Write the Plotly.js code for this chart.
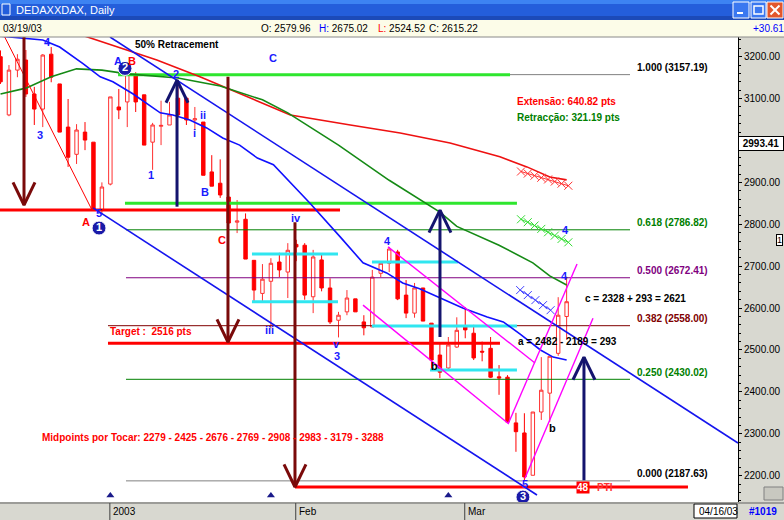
<!DOCTYPE html>
<html>
<head>
<meta charset="utf-8">
<script src="https://cdn.plot.ly/plotly-3.0.1.min.js"></script>
<style>
  html, body { margin: 0; padding: 0; background: #fff; overflow: hidden; }
  #chart { width: 784px; height: 520px; }
</style>
</head>
<body>
<div id="chart"></div>
<script>
// ---- DAX daily bars, 09 Dec 2002 .. 19 Mar 2003 (x = bar index) ----
const barDates = [
  '2002-12-09','2002-12-10','2002-12-11','2002-12-12','2002-12-13','2002-12-16','2002-12-17','2002-12-18','2002-12-19','2002-12-20','2002-12-23','2002-12-27','2002-12-30',
  '2003-01-02','2003-01-03','2003-01-06','2003-01-07','2003-01-08','2003-01-09','2003-01-10','2003-01-13','2003-01-14','2003-01-15','2003-01-16','2003-01-17','2003-01-20','2003-01-21','2003-01-22','2003-01-23','2003-01-24','2003-01-27','2003-01-28','2003-01-29','2003-01-30','2003-01-31',
  '2003-02-03','2003-02-04','2003-02-05','2003-02-06','2003-02-07','2003-02-10','2003-02-11','2003-02-12','2003-02-13','2003-02-14','2003-02-17','2003-02-18','2003-02-19','2003-02-20','2003-02-21','2003-02-24','2003-02-25','2003-02-26','2003-02-27','2003-02-28',
  '2003-03-03','2003-03-04','2003-03-05','2003-03-06','2003-03-07','2003-03-10','2003-03-11','2003-03-12','2003-03-13','2003-03-14','2003-03-17','2003-03-18','2003-03-19'
];
const openPx  = [3200,3061,3168,3192,3111,3075,3206,3135,3032,2967,3020,2996,2834,2896,3080,3092,3156,3109,2996,3034,3037,3101,3101,3049,3044,2925,2898,2865,2805,2812,2714,2635,2664,2710,2686,2752,2750,2627,2715,2648,2571,2591,2622,2567,2555,2683,2707,2734,2631,2588,2648,2564,2488,2457,2507,2557,2540,2497,2504,2436,2435,2326,2302,2201,2352,2397,2492,2579.96];
const highPx  = [3215,3180,3206,3216,3128,3206,3223,3135,3099,3039,3044,2996,2900,3104,3123,3163,3163,3109,3042,3095,3092,3132,3104,3080,3044,2965,2955,2865,2858,2826,2714,2705,2719,2732,2755,2763,2755,2739,2727,2671,2591,2643,2622,2583,2691,2712,2746,2739,2667,2660,2648,2564,2516,2531,2578,2602,2560,2520,2531,2464,2440,2350,2349,2352,2483,2485,2626,2675.02];
const lowPx   = [3135,3058,3151,3104,3037,3032,3139,3020,2937,2944,2977,2834,2824,2893,3051,3032,3068,2989,2930,2989,3037,3056,3037,3025,2917,2891,2863,2803,2779,2717,2615,2617,2552,2674,2624,2712,2620,2588,2640,2562,2530,2583,2591,2535,2555,2674,2686,2619,2576,2577,2569,2450,2433,2452,2505,2528,2476,2473,2433,2393,2326,2257,2189,2201,2333,2328,2486,2524.52];
const closePx = [3140,3168,3194,3111,3075,3204,3151,3020,2960,3025,3001,2834,2889,3104,3073,3159,3092,2989,3037,3036,3061,3061,3049,3052,2917,2891,2870,2803,2808,2717,2643,2669,2707,2691,2738,2746,2631,2722,2648,2567,2583,2624,2591,2553,2674,2707,2741,2622,2588,2648,2569,2476,2447,2512,2547,2548,2481,2495,2435,2433,2328,2305,2197,2352,2404,2485,2583,2615.22];
const barIdx = barDates.map((d, i) => i);

// ---- moving averages (bar index / value) ----
const maRedIdx   = [8.8, 18.5, 23.6, 27.2, 30.7, 34.3, 41.4, 47.3, 53.2, 59.1, 62.3, 65.0, 67.0];
const maRedVal   = [3257, 3192, 3152, 3121, 3092, 3061, 3037, 3018, 2994, 2961, 2937, 2913, 2906];
const maGreenIdx = [0, 3, 6, 9, 12, 15, 21, 26, 31, 34, 40, 46, 52, 54, 59, 63, 65, 67];
const maGreenVal = [3111, 3125, 3152, 3171, 3168, 3159, 3149, 3130, 3097, 3066, 2989, 2905, 2829, 2795, 2750, 2708, 2677, 2655];
const maBlueIdx  = [0, 5, 7, 9.8, 11.8, 13.3, 15.7, 17.7, 18.9, 20.4, 22.4, 24.4, 26.3, 28.3, 30.4, 32.3, 34.3, 36.6, 40.2, 42.9, 45.7, 47.6, 49.6, 51.7, 54.7, 57.6, 59.5, 61.5, 63.9, 65.4, 67.0];
const maBlueVal  = [3249, 3240, 3223, 3183, 3152, 3140, 3111, 3082, 3066, 3061, 3049, 3030, 3006, 2989, 2958, 2942, 2899, 2851, 2770, 2708, 2684, 2660, 2646, 2627, 2600, 2579, 2567, 2538, 2500, 2483, 2476];

// ---- projected averages (x-marked) ----
const projRedIdx   = [61.6, 62.4, 63.2, 64.0, 64.8, 65.6, 66.4, 67.2];
const projRedVal   = [2926, 2921, 2916, 2911, 2907, 2902, 2897, 2892];
const projGreenIdx = [61.6, 62.4, 63.2, 64.0, 64.8, 65.6, 66.4, 67.2];
const projGreenVal = [2812, 2805, 2797, 2789, 2781, 2773, 2765, 2757];
const projBlueIdx  = [61.5, 62.4, 63.3, 64.2, 65.1];
const projBlueVal  = [2643, 2631, 2619, 2607, 2595];

// ---- Fibonacci retracement ----
const fibLow = 2187.63, fibHigh = 3157.19;
const fibRatios = [1.000, 0.618, 0.500, 0.382, 0.250, 0.000];
const fibStartIdx = [14.85, 14.85, 14.85, 12.72, 14.85, 14.85];
const fibEndIdx = 74.5;
const fibLevels = fibRatios.map(r => fibLow + r * (fibHigh - fibLow));

// ---- drawn studies: [x0, y0, x1, y1] in bar index / price ----
const redTrend     = [[0.5, 3247, 10.83, 2834]];
const blueChannel  = [[12.96, 3247, 87.28, 2278], [10.95, 2839, 63.49, 2154]];
const magentaDown  = [[45.86, 2746, 63.25, 2469], [42.90, 2607, 60.06, 2325]];
const magentaUp    = [[60.06, 2323, 68.23, 2705], [62.07, 2194, 70.12, 2576]];
// horizontal levels: [x0, x1, price]
const redLevels    = [[-1, 40.18, 2834], [12.72, 59.11, 2516], [34.85, 81.36, 2173]];
const greenLevels  = [[13.91, 60.30, 3157.19], [14.73, 61.12, 2850]];
const cyanLevels   = [[29.76, 39.94, 2729], [29.76, 39.94, 2615], [43.96, 54.14, 2710], [43.96, 61.12, 2557], [50.83, 61.12, 2452]];
// vertical projection arrows: [x, from, to]
const downArrows   = [[2.78, 3260, 2846], [26.92, 3152, 2519], [34.85, 2805, 2173]];
const upArrows     = [[20.89, 2842, 3144], [52.01, 2531, 2834], [69.05, 2189, 2483]];
// event markers on the time axis
const eventIdx = [13, 32, 53];
// month starts for the time axis
const monthIdx = [13, 35, 55];
const monthLabels = ['2003', 'Feb', 'Mar'];
// price scale (3000 sits under the last-value box)
const yTicks = [2200, 2300, 2400, 2500, 2600, 2700, 2800, 2900, 3000, 3100, 3200];
const yTickText = ['2200.00', '2300.00', '2400.00', '2500.00', '2600.00', '2700.00', '2800.00', '2900.00', '', '3100.00', '3200.00'];
const lastValue = 2993.41;

const FONT = 'Liberation Sans, Arial, sans-serif';
const PW = 738, PH = 465, PT = 37;
const fx = px => px / PW;
const fy = py => (PT + PH - py) / PH;

function segTrace(segs, color, width) {
  const x = [], y = [];
  segs.forEach(s => { x.push(s[0], s[2], null); y.push(s[1], s[3], null); });
  return { type: 'scatter', mode: 'lines', x, y, line: { color, width }, hoverinfo: 'skip' };
}
function levelTrace(levels, color, width) {
  return segTrace(levels.map(l => [l[0], l[2], l[1], l[2]]), color, width);
}
function arrowTrace(arrows, color, dir) {
  const x = [], y = [];
  arrows.forEach(a => {
    const [ax, from, to] = a;
    const back = to - dir * 54;
    x.push(ax, ax, null, ax - 1.3, ax, ax + 1.3, null);
    y.push(from, to, null, back, to, back, null);
  });
  return { type: 'scatter', mode: 'lines', x, y, line: { color, width: 3 }, hoverinfo: 'skip' };
}

const traces = [];
const fibColors = ['#808080', '#008000', '#800080', '#800000', '#008000', '#808080'];
fibRatios.forEach((r, k) => {
  traces.push({ type: 'scatter', mode: 'lines', x: [fibStartIdx[k], fibEndIdx], y: [fibLevels[k], fibLevels[k]],
    line: { color: fibColors[k], width: 1 }, hoverinfo: 'skip' });
});
traces.push(levelTrace(greenLevels, '#2ee62e', 3));
traces.push(levelTrace(cyanLevels, '#30e6f0', 3));
traces.push(levelTrace(redLevels, '#ff0000', 3));

traces.push({
  type: 'candlestick', x: barIdx, open: openPx, high: highPx, low: lowPx, close: closePx,
  text: barDates, whiskerwidth: 0,
  increasing: { line: { color: '#ff3030', width: 1 }, fillcolor: '#ffffff' },
  decreasing: { line: { color: '#ff0000', width: 1 }, fillcolor: '#ff0000' },
  hoverinfo: 'skip'
});

traces.push({ type: 'scatter', mode: 'lines', x: maRedIdx, y: maRedVal, line: { color: '#ee1111', width: 1.6 }, hoverinfo: 'skip' });
traces.push({ type: 'scatter', mode: 'lines', x: maGreenIdx, y: maGreenVal, line: { color: '#158a15', width: 1.6 }, hoverinfo: 'skip' });
traces.push({ type: 'scatter', mode: 'lines', x: maBlueIdx, y: maBlueVal, line: { color: '#1010ff', width: 1.6 }, hoverinfo: 'skip' });

traces.push(segTrace(redTrend, '#ff0000', 1));
traces.push(segTrace(blueChannel, '#1515ee', 1.6));
traces.push(segTrace(magentaDown, '#ff00ff', 1.4));
traces.push(segTrace(magentaUp, '#ff00ff', 1.4));

[[projRedIdx, projRedVal, '#ff3030'], [projGreenIdx, projGreenVal, '#33dd33'], [projBlueIdx, projBlueVal, '#4040ff']].forEach(p => {
  traces.push({ type: 'scatter', mode: 'lines+markers', x: p[0], y: p[1],
    line: { color: p[2], width: 1 },
    marker: { symbol: 'x-thin', size: 8, line: { color: p[2], width: 1 } }, hoverinfo: 'skip' });
});

traces.push(arrowTrace(downArrows, '#7a0a0a', -1));
traces.push(arrowTrace(upArrows, '#14146e', 1));

traces.push({ type: 'scatter', mode: 'markers', x: eventIdx, y: eventIdx.map(() => 2153),
  marker: { symbol: 'triangle-up', size: 7, color: '#1a1a8a' }, hoverinfo: 'skip' });

const annotations = [];
function dtxt(text, x, y, color, size, opts) {
  annotations.push(Object.assign({ text, x, y, xref: 'x', yref: 'y', showarrow: false,
    font: { family: FONT, size: size || 11, color, weight: 'bold' } }, opts || {}));
}
function ptxt(text, px, py, color, size, opts) {
  annotations.push(Object.assign({ text, x: fx(px), y: fy(py), xref: 'paper', yref: 'paper', showarrow: false,
    xanchor: 'left', yanchor: 'middle', font: { family: FONT, size: size || 10, color } }, opts || {}));
}

// Fibonacci labels
const fibTextColors = ['#000000', '#008000', '#800080', '#800000', '#008000', '#000000'];
fibRatios.forEach((r, k) => {
  dtxt(r.toFixed(3) + ' (' + fibLevels[k].toFixed(2) + ')', 75.09, fibLevels[k], fibTextColors[k], 10,
    { xanchor: 'left', yanchor: 'middle', yshift: 7 });
});

dtxt('50% Retracement', 15.68, 3230, '#000000', 10, { xanchor: 'left' });
dtxt('Extensão: 640.82 pts', 60.89, 3094, '#ff0000', 10, { xanchor: 'left' });
dtxt('Retracção: 321.19 pts', 60.89, 3056, '#008000', 10, { xanchor: 'left' });
dtxt('c = 2328 + 293 = 2621', 68.93, 2624, '#000000', 10, { xanchor: 'left' });
dtxt('a = 2482 - 2189 = 293', 61.0, 2521, '#000000', 10, { xanchor: 'left' });
dtxt('Target :  2516 pts', 12.72, 2545, '#ff0000', 10, { xanchor: 'left' });
dtxt('Midpoints por Tocar: 2279 - 2425 - 2676 - 2769 - 2908 - 2983 - 3179 - 3288', 4.67, 2292, '#ff0000', 10, { xanchor: 'left' });

// wave labels
const B = '#1a1aff';
[
  ['4', 5.62, 3235, B], ['3', 4.67, 3013, B], ['5', 11.66, 2827, B], ['A', 10.12, 2805, '#ff0000'],
  ['A', 13.95, 3190, B], ['B', 15.55, 3190, '#ff0000'], ['2', 20.77, 3159, B], ['ii', 23.96, 3061, B],
  ['i', 22.9, 3018, B], ['1', 17.81, 2918, B], ['B', 24.2, 2877, B], ['C', 26.21, 2762, '#ff0000'],
  ['C', 32.25, 3197, B], ['iii', 31.78, 2548, B], ['iv', 34.97, 2815, B], ['v', 39.82, 2514, B],
  ['3', 39.82, 2486, B], ['4', 45.74, 2760, B], ['b', 51.42, 2462, '#000000'], ['b', 65.38, 2314, '#000000'],
  ['5', 62.07, 2180, B], ['4', 66.92, 2786, B], ['4', 66.8, 2676, B]
].forEach(w => dtxt(w[0], w[1], w[2], w[3], 11));

// circled wave counts (drawn over the letters)
traces.push({ type: 'scatter', mode: 'markers+text', x: [11.66, 14.73, 61.83], y: [2791, 3172, 2149],
  text: ['1', '2', '3'], textposition: 'middle center',
  textfont: { family: FONT, size: 11, color: '#ffffff', weight: 'bold' },
  marker: { symbol: 'circle', size: 14, color: '#1a1aa8', line: { color: '#ffffff', width: 1 } }, hoverinfo: 'skip' });

// PTI marker
dtxt('48', 68.95, 2173, '#ffffff', 10, { bgcolor: '#ff0000', borderpad: 0, xanchor: 'center' });
dtxt('PTI', 70.3, 2173, '#ff3030', 10, { xanchor: 'left' });

// last-value box on the price scale
annotations.push({ text: lastValue.toFixed(2), x: 1.0, y: lastValue, xref: 'paper', yref: 'y', xanchor: 'left', yanchor: 'middle',
  showarrow: false, bgcolor: '#ffffff', bordercolor: '#000000', borderwidth: 1, borderpad: 1, width: 42,
  font: { family: FONT, size: 10, color: '#000000', weight: 'bold' } });
annotations.push({ text: '1', x: fx(776), y: 2762, xref: 'paper', yref: 'y', xanchor: 'left', yanchor: 'middle',
  showarrow: false, bgcolor: '#ffffff', bordercolor: '#000000', borderwidth: 1, borderpad: 0,
  font: { family: FONT, size: 9, color: '#000000' } });

// window title bar and quote line
ptxt('DEDAXXDAX, Daily', 14, 10, '#ffffff', 11);
ptxt('03/19/03', 1, 28.5, '#000000', 10);
ptxt('O: 2579.96', 259, 28.5, '#000000', 10);
ptxt('<span style="color:#0000ff">H:</span> 2675.02', 317, 28.5, '#000000', 10);
ptxt('<span style="color:#ff0000">L:</span> 2524.52', 376, 28.5, '#000000', 10);
ptxt('C: 2615.22', 427, 28.5, '#000000', 10);
ptxt('+30.61', 751, 28.5, '#0000ff', 10);

// time axis
monthIdx.forEach((m, k) => {
  annotations.push({ text: monthLabels[k], x: m - 0.06, y: fy(511.5), xref: 'x', yref: 'paper', xanchor: 'left', yanchor: 'middle',
    xshift: 1, showarrow: false, font: { family: FONT, size: 10, color: '#000000' } });
});
ptxt('04/16/03', 697, 511.5, '#000000', 10);
ptxt('#1019', 747, 511.5, '#0000ff', 10, { font: { family: FONT, size: 10, color: '#0000ff', weight: 'bold' } });

const shapes = [];
function prect(x0, y0, x1, y1, fill, line, lw) {
  shapes.push({ type: 'rect', xref: 'paper', yref: 'paper', x0: fx(x0), x1: fx(x1), y0: fy(y0), y1: fy(y1),
    fillcolor: fill, line: { color: line || fill, width: lw === undefined ? 0 : lw }, layer: 'below' });
}
function pline(x0, y0, x1, y1, color, w) {
  shapes.push({ type: 'line', xref: 'paper', yref: 'paper', x0: fx(x0), x1: fx(x1), y0: fy(y0), y1: fy(y1),
    line: { color, width: w || 1 } });
}
// title bar
prect(0, 0, 784, 20, '#245edb');
prect(0, 0, 784, 4, '#3d83f2');
prect(0, 16, 784, 20, '#1c4ab8');
prect(2, 4, 10, 15, '#245edb', '#ffffff', 1);
prect(733, 2, 749, 18, '#3a78f0', '#ffffff', 1);
prect(737, 12, 743, 14, '#ffffff');
prect(751, 2, 766, 18, '#3a78f0', '#ffffff', 1);
prect(754, 6, 763, 14, '#3a78f0', '#ffffff', 1.5);
prect(767, 2, 783, 18, '#e2572c', '#ffffff', 1);
pline(770.5, 5.5, 779.5, 14.5, '#ffffff', 2);
pline(770.5, 14.5, 779.5, 5.5, '#ffffff', 2);
// quote line
prect(0, 20, 784, 37, '#fcfce8');
pline(0, 37, 784, 37, '#8a8a8a', 1);
// time axis bar
pline(0, 503, 784, 503, '#606060', 1);
monthIdx.forEach(m => {
  shapes.push({ type: 'line', xref: 'x', yref: 'paper', x0: m - 0.06, x1: m - 0.06, y0: fy(503), y1: fy(520),
    line: { color: '#404040', width: 1 } });
});
shapes.push({ type: 'rect', xref: 'paper', yref: 'paper', x0: fx(694), x1: fx(737), y0: fy(504), y1: fy(518),
  fillcolor: '#ffffff', line: { color: '#000000', width: 1 }, layer: 'below' });
// small tool icon at the foot of the price scale
prect(764, 487, 783, 500, '#c8c8c0', '#808080', 1);

const layout = {
  width: 784, height: 520,
  margin: { l: 0, r: 46, t: 37, b: 18, pad: 0 },
  paper_bgcolor: '#d8d8d0', plot_bgcolor: '#ffffff',
  showlegend: false, hovermode: false, dragmode: false,
  boxgap: 0.42,
  xaxis: { range: [-0.06, 87.28], showgrid: false, zeroline: false, showticklabels: false, ticks: '',
    showline: false, rangeslider: { visible: false }, fixedrange: true },
  yaxis: { side: 'right', range: [2137.2, 3247], tickvals: yTicks, ticktext: yTickText,
    ticks: 'outside', ticklen: 3, tickcolor: '#000000', showline: true, linecolor: '#000000', linewidth: 1,
    minor: { dtick: 20, ticks: 'outside', ticklen: 2, tickcolor: '#000000' },
    showgrid: false, zeroline: false, fixedrange: true,
    tickfont: { family: FONT, size: 10, color: '#000000' } },
  shapes, annotations
};

Plotly.newPlot('chart', traces, layout, { displayModeBar: false, staticPlot: true });
</script>
</body>
</html>
